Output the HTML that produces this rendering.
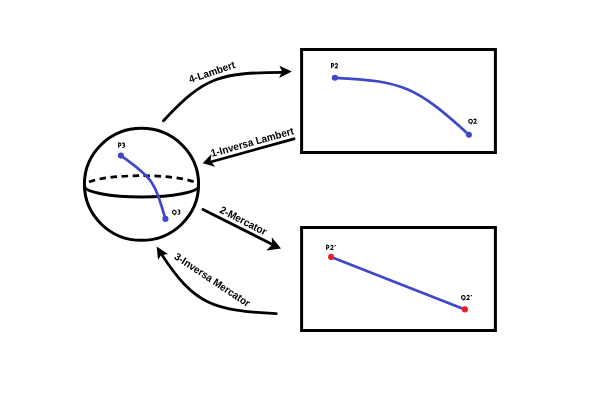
<!DOCTYPE html>
<html>
<head>
<meta charset="utf-8">
<style>
html,body{margin:0;padding:0;background:#fff;width:600px;height:405px;overflow:hidden;}
svg{display:block;position:absolute;left:0;top:0;}
.ov{filter:grayscale(1);}
text{font-family:"Liberation Sans",sans-serif;font-weight:bold;fill:#000;text-rendering:geometricPrecision;}
</style>
</head>
<body>
<svg width="600" height="405" viewBox="0 0 600 405">
<rect x="0" y="0" width="600" height="405" fill="#fff"/>

<!-- boxes -->
<rect x="301.6" y="49.5" width="193.8" height="103" fill="none" stroke="#000" stroke-width="3"/>
<rect x="301.6" y="227.5" width="193.8" height="103" fill="none" stroke="#000" stroke-width="3"/>

<!-- sphere -->
<ellipse cx="141.5" cy="184.35" rx="57.1" ry="56" fill="none" stroke="#000" stroke-width="3"/>
<path d="M84.4 186.05 A57.1 10.35 0 0 1 198.6 186.05" fill="none" stroke="#000" stroke-width="2.7" stroke-dasharray="6.5 4.5" stroke-dashoffset="4.5"/>
<path d="M84.4 186.05 A57.1 10.9 0 0 0 198.6 186.05" fill="none" stroke="#000" stroke-width="2.9"/>

<!-- sphere curve -->
<path d="M120.9 155.6 C153.6 178.4 154.7 182.4 165.4 218.9" fill="none" stroke="#3f48cc" stroke-width="2.7"/>
<circle cx="120.9" cy="155.6" r="3.05" fill="#3f48cc"/>
<circle cx="165.4" cy="218.9" r="3.05" fill="#3f48cc"/>

<!-- box1 curve -->
<path d="M334.8 77.8 C402.9 80.8 416.6 87.1 468.9 134.8" fill="none" stroke="#3f48cc" stroke-width="2.7"/>
<circle cx="334.8" cy="77.8" r="3.05" fill="#3f48cc"/>
<circle cx="468.9" cy="134.8" r="3.05" fill="#3f48cc"/>

<!-- box2 line -->
<line x1="331.1" y1="256.9" x2="464.9" y2="309.4" stroke="#3f48cc" stroke-width="2.7"/>
<circle cx="331.1" cy="256.9" r="3.05" fill="#ed1c24"/>
<circle cx="464.9" cy="309.4" r="3.05" fill="#ed1c24"/>

<!-- arrows -->
<g fill="none" stroke="#000" stroke-width="2.8" stroke-linecap="round">
<path d="M163.5 120.7 C205.3 75.4 221.2 72.8 283 72.4"/>
<line x1="294" y1="138.8" x2="210.5" y2="162"/>
<line x1="203" y1="209.5" x2="272" y2="244.2"/>
<path d="M276.2 313.6 C213.4 310.5 194.5 305.2 161.1 253.6"/>
</g>
<g fill="#000">
<!-- arrowheads: tip, corners -->
<polygon points="291.80,71.38 279.42,65.79 282.10,71.60 279.11,77.91"/>
<polygon points="202.72,163.23 211.41,153.91 210.60,161.10 215.15,166.86"/>
<polygon points="280.97,248.48 271.83,237.21 271.90,244.90 266.30,250.60"/>
<polygon points="156.64,246.47 168.00,254.04 161.00,255.30 158.05,259.86"/>
</g>

</svg>
<svg class="ov" width="600" height="405" viewBox="0 0 600 405">
<!-- point labels -->
<g transform="translate(118.1 147.8)" fill="none" stroke="#000"><path transform="translate(0.00 0)" d="M0.53 0 V-4.67 H1.7 A1.18 1.34 0 0 1 1.7 -2.00 H0.53" stroke-width="1.05"/><path transform="translate(3.75 0)" d="M0.35 -4.67 H1.65 A0.98 1.01 0 0 1 1.65 -2.65 H1.0 M1.65 -2.65 A1.03 1.06 0 0 1 1.65 -0.53 H0.3" stroke-width="1.05"/></g>
<g transform="translate(172.0 214.7)" fill="none" stroke="#000"><path transform="translate(0.00 0)" d="M0.52 -2.50 A1.83 1.98 0 1 1 4.18 -2.50 A1.83 1.98 0 1 1 0.52 -2.50 Z M2.82 -0.3 L3.20 0.55" stroke-width="1.05"/><path transform="translate(5.20 0)" d="M0.35 -4.67 H1.65 A0.98 1.01 0 0 1 1.65 -2.65 H1.0 M1.65 -2.65 A1.03 1.06 0 0 1 1.65 -0.53 H0.3" stroke-width="1.05"/></g>
<g transform="translate(331.0 68.3)" fill="none" stroke="#000"><path transform="translate(0.00 0)" d="M0.53 0 V-4.67 H1.7 A1.18 1.34 0 0 1 1.7 -2.00 H0.53" stroke-width="1.05"/><path transform="translate(3.80 0)" d="M0.45 -3.67 C0.7 -4.67 1.3 -4.67 1.65 -4.67 C2.3 -4.67 2.68 -4.33 2.68 -3.52 C2.68 -2.57 1.6 -1.60 0.53 -0.53 H3.20" stroke-width="1.05"/></g>
<g transform="translate(468.2 123.8)" fill="none" stroke="#000"><path transform="translate(0.00 0)" d="M0.52 -2.50 A1.83 1.98 0 1 1 4.18 -2.50 A1.83 1.98 0 1 1 0.52 -2.50 Z M2.82 -0.3 L3.20 0.55" stroke-width="1.05"/><path transform="translate(5.30 0)" d="M0.45 -3.67 C0.7 -4.67 1.3 -4.67 1.65 -4.67 C2.3 -4.67 2.68 -4.33 2.68 -3.52 C2.68 -2.57 1.6 -1.60 0.53 -0.53 H3.20" stroke-width="1.05"/></g>
<g transform="translate(326.1 250.0)" fill="none" stroke="#000"><path transform="translate(0.00 0)" d="M0.53 0 V-4.67 H1.7 A1.18 1.34 0 0 1 1.7 -2.00 H0.53" stroke-width="1.05"/><path transform="translate(4.25 0)" d="M0.45 -3.67 C0.7 -4.67 1.3 -4.67 1.65 -4.67 C2.3 -4.67 2.68 -4.33 2.68 -3.52 C2.68 -2.57 1.6 -1.60 0.53 -0.53 H3.20" stroke-width="1.05"/><path transform="translate(8.55 0)" d="M0.55 -5.10 V-3.80" stroke-width="1.1"/></g>
<g transform="translate(461.0 300.0)" fill="none" stroke="#000"><path transform="translate(0.00 0)" d="M0.52 -2.50 A1.83 1.98 0 1 1 4.18 -2.50 A1.83 1.98 0 1 1 0.52 -2.50 Z M2.82 -0.3 L3.20 0.55" stroke-width="1.05"/><path transform="translate(5.55 0)" d="M0.45 -3.67 C0.7 -4.67 1.3 -4.67 1.65 -4.67 C2.3 -4.67 2.68 -4.33 2.68 -3.52 C2.68 -2.57 1.6 -1.60 0.53 -0.53 H3.20" stroke-width="1.05"/><path transform="translate(9.75 0)" d="M0.55 -5.10 V-3.80" stroke-width="1.1"/></g>
<!-- arrow labels -->
<text font-size="10.4" textLength="48" lengthAdjust="spacingAndGlyphs" transform="translate(190.3 83) rotate(-18.5)">4-Lambert</text>
<text font-size="10.6" textLength="85.5" lengthAdjust="spacingAndGlyphs" transform="translate(212 157) rotate(-15.5)">1-Inversa Lambert</text>
<text font-size="10.6" textLength="51" lengthAdjust="spacingAndGlyphs" transform="translate(219 212.3) rotate(27)">2-Mercator</text>
<text font-size="10.5" textLength="88.5" lengthAdjust="spacingAndGlyphs" transform="translate(173.5 258.2) rotate(33.6)">3-Inversa Mercator</text>
</svg>
</body>
</html>
